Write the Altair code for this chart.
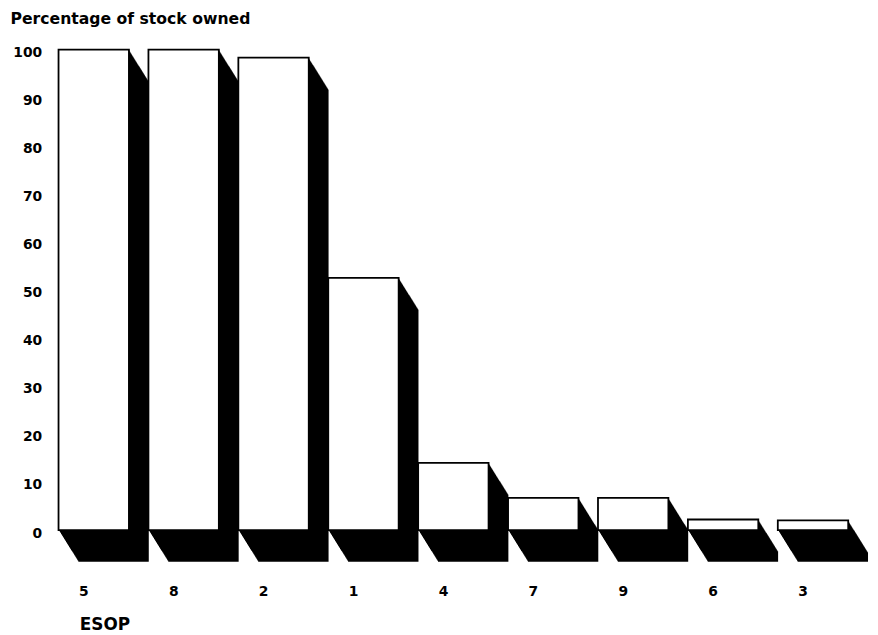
import altair as alt
import pandas as pd

# Data
esop = ["5", "8", "2", "1", "4", "7", "9", "6", "3"]
pct = [100, 100, 98.3, 52.5, 14.0, 6.7, 6.7, 2.2, 2.0]
y_ticks = list(range(0, 101, 10))

df = pd.DataFrame({"esop": esop, "pct": pct})

W, H = 797, 485
DX, DY = 20, 32   # depth of the 3-D extrusion (px)
N = 32            # steps used to sweep the extrusion

FONT = "DejaVu Sans"

common_axis = dict(
    domain=False, ticks=False, grid=False,
    labelFont=FONT, labelFontWeight="bold", labelFontSize=14, labelColor="black",
    titleFont=FONT, titleFontWeight="bold", titleColor="black",
)

x_enc = alt.X(
    "esop:N", sort=esop,
    scale=alt.Scale(paddingInner=0.217, paddingOuter=0),
    axis=alt.Axis(
        title="ESOP", labelAngle=0, labelOffset=-10, labelPadding=55,
        titleX=21, titleY=87, titleAlign="left", titleBaseline="top",
        titleFontSize=17, **common_axis,
    ),
)
y_enc = alt.Y(
    "pct:Q",
    scale=alt.Scale(domain=[0, 100], nice=False),
    axis=alt.Axis(
        values=y_ticks, title="Percentage of stock owned",
        labelPadding=17, labelOffset=3,
        titleAngle=0, titleX=-49, titleY=-26, titleAlign="left",
        titleBaseline="alphabetic", titleFontSize=15.8, **common_axis,
    ),
)

base = alt.Chart(df).encode(x=x_enc, y=y_enc)

shadows = [
    base.mark_bar(
        color="black",
        xOffset=DX * k / N, x2Offset=DX * k / N,
        yOffset=DY * k / N, y2Offset=DY * k / N,
    )
    for k in range(N, -1, -1)
]
front = base.mark_bar(fill="white", stroke="black", strokeWidth=1.8)

chart = alt.layer(*shadows, front).properties(
    width=W, height=H,
    padding={"left": 51, "top": 39, "right": 22, "bottom": 104},
    autosize="none",
).configure(background="white").configure_view(stroke=None)

chart.save("out.html", embed_options={"renderer": "svg", "actions": False})
